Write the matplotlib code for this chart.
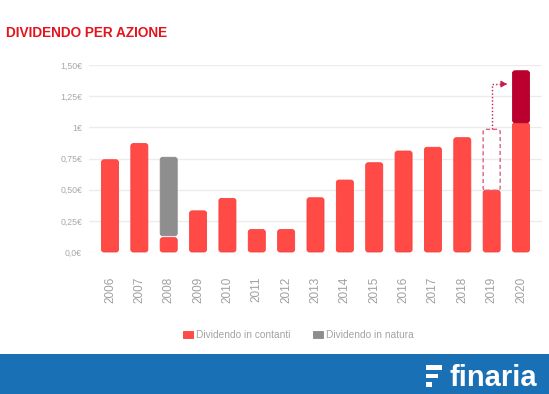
import matplotlib
matplotlib.use("Agg")
import matplotlib.pyplot as plt
from matplotlib.patches import FancyBboxPatch, Rectangle, Patch

years = [str(y) for y in range(2006, 2021)]
cash = [0.74, 0.87, 0.115, 0.33, 0.43, 0.18, 0.18, 0.435, 0.577, 0.716, 0.81, 0.84, 0.917, 0.495, 1.037]
in_kind_bottom = [None, None, 0.13, None, None, None, None, None, None, None, None, None, None, None, None]
in_kind_top = [None, None, 0.76, None, None, None, None, None, None, None, None, None, None, None, None]
extra_2020 = 0.417          # dark red top part of 2020
box_2019_top = 0.984        # dashed box above 2019
arrow_level = 1.347
arrow_end_x = 13.52
yticks = [0, 0.25, 0.5, 0.75, 1.0, 1.25, 1.5]
ytick_labels = ["0,0€", "0,25€", "0,50€", "0,75€", "1€", "1,25€", "1,50€"]
legend_labels = ["Dividendo in contanti", "Dividendo in natura"]
title = "DIVIDENDO PER AZIONE"

RED = "#ff4a45"
RED_EDGE = "#f8403e"
DARK = "#bb0030"
GRAY = "#8e8e8e"
BLUE = "#1a70b4"

W, H = 549, 394
fig = plt.figure(figsize=(W / 100, H / 100), dpi=100)
fig.patch.set_facecolor("white")
plt.rcParams["font.family"] = ["Liberation Sans", "DejaVu Sans"]

ax = fig.add_axes([89 / W, 1 - 252 / H, (542 - 89) / W, (252 - 65) / H])
ax.set_xlim(-0.715, 14.715)
ax.set_ylim(0, 1.5)

# pixel scales for rounding
px_x = (542 - 89) / 15.43
px_y = (252 - 65) / 1.5
aspect = px_x / px_y
r = 2.6 / px_x

def rounded(bar, face, edge, ls="-", fill=True, lw=0.6):
    x, y = bar.get_x(), bar.get_y()
    w, h = bar.get_width(), bar.get_height()
    p = FancyBboxPatch((x, y), w, h,
                       boxstyle=f"round,pad=0,rounding_size={r}",
                       mutation_aspect=aspect,
                       facecolor=face if fill else "none", edgecolor=edge,
                       linewidth=lw, linestyle=ls, zorder=3, clip_on=False)
    ax.add_patch(p)
    bar.set_visible(False)

xs = list(range(len(years)))
width = 0.58

bars = ax.bar(xs, cash, width=width)
for b in bars:
    rounded(b, RED, RED_EDGE)

for i, (b0, b1) in enumerate(zip(in_kind_bottom, in_kind_top)):
    if b0 is not None:
        gb = ax.bar([i], [b1 - b0], bottom=[b0], width=width)
        rounded(gb[0], GRAY, "#8a8a8a")

db = ax.bar([14], [extra_2020], bottom=[cash[14]], width=width)
rounded(db[0], DARK, "#b0002c")

bx = ax.bar([13], [box_2019_top - cash[13]], bottom=[cash[13]], width=width)
rounded(bx[0], "none", "#d9627e", ls=(0, (3, 2)), fill=False, lw=1.0)

# dotted arrow
ax.plot([13, 13, arrow_end_x - 0.12], [box_2019_top, arrow_level, arrow_level],
        color="#c81d4c", lw=1.0, ls=(0, (1, 1.5)), zorder=4, clip_on=False)
ax.annotate("", xy=(arrow_end_x, arrow_level), xytext=(arrow_end_x - 0.15, arrow_level),
            arrowprops=dict(arrowstyle="-|>,head_length=0.35,head_width=0.2",
                            color="#c81d4c", lw=0.8), zorder=4)

ax.set_yticks(yticks)
ax.set_yticklabels(ytick_labels, fontsize=6.3, color="#a8a8a8")
ax.set_xticks(xs)
ax.set_xticklabels(years, rotation=90, fontsize=8.5, color="#a0a0a0")
ax.tick_params(axis="y", length=0, pad=5)
ax.tick_params(axis="x", length=0, pad=18)
ax.grid(axis="y", color="#ececec", lw=1.0, zorder=0)
ax.set_axisbelow(True)
for s in ax.spines.values():
    s.set_visible(False)

fig.text(6 / W, 1 - 33 / H, title, color="#e3141e", fontsize=9.8,
         fontweight="bold", va="center", ha="left")

handles = [Patch(facecolor=RED, edgecolor=RED_EDGE, lw=0.6),
           Patch(facecolor=GRAY, edgecolor="#8a8a8a", lw=0.6)]
fig.legend(handles, legend_labels, loc="center", bbox_to_anchor=(298 / W, 1 - 335 / H),
           ncol=2, frameon=False, fontsize=7.3, handlelength=1.0, handleheight=0.8,
           handletextpad=0.3, columnspacing=2.2, labelcolor="#a4a4a4")

# footer band
fig.patches.append(Rectangle((0, 0), 1, 40 / H, transform=fig.transFigure,
                             facecolor=BLUE, edgecolor="none", zorder=0))
for (x0, x1, y0, y1) in [(426, 442, 365, 369.5), (426, 437.5, 373.5, 378), (426, 432, 382, 387)]:
    fig.patches.append(Rectangle((x0 / W, 1 - y1 / H), (x1 - x0) / W, (y1 - y0) / H,
                                 transform=fig.transFigure, facecolor="white",
                                 edgecolor="none", zorder=1))
fig.text(449 / W, 1 - 386.5 / H, "finaria", color="white", fontsize=21,
         fontweight="bold", ha="left", va="baseline")

fig.savefig("out.png", dpi=100, facecolor="white")
